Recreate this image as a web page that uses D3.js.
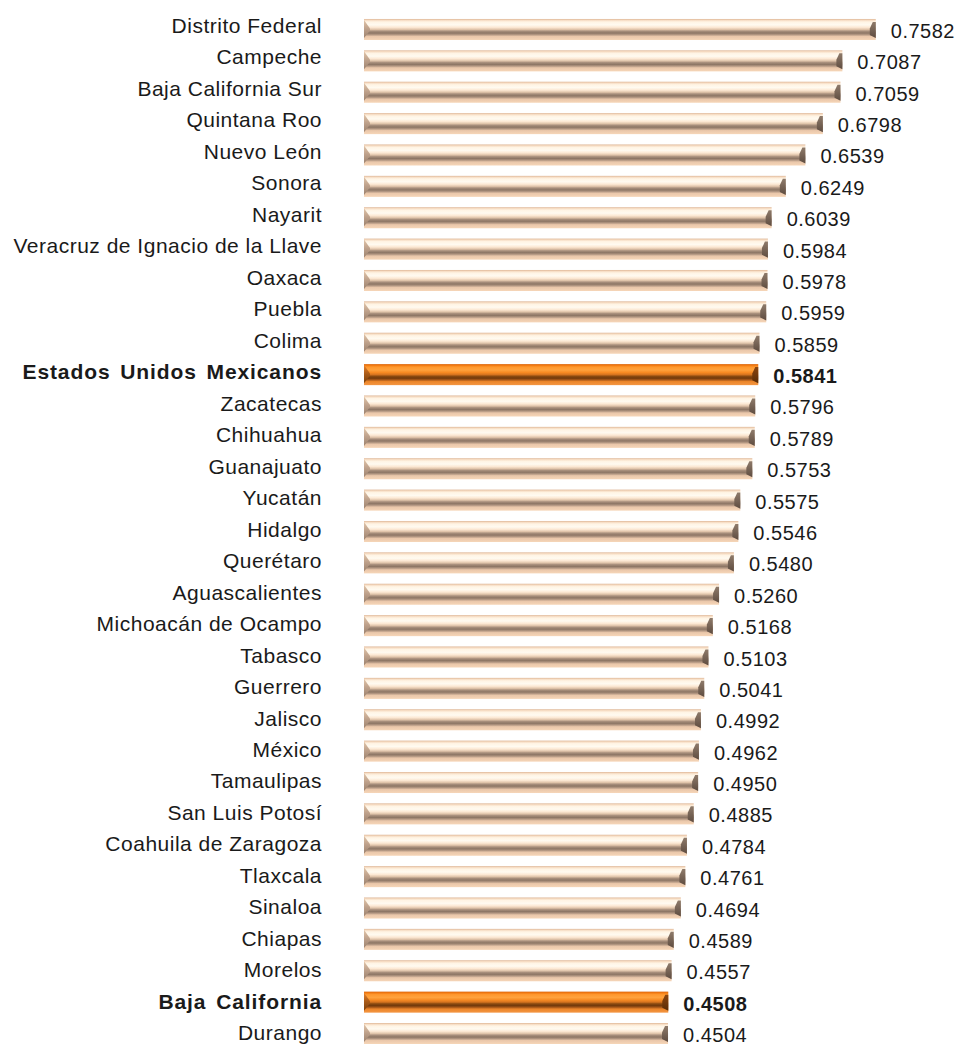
<!DOCTYPE html>
<html>
<head>
<meta charset="utf-8">
<script src="https://cdn.jsdelivr.net/npm/d3@7"></script>
<style>
  html, body { margin: 0; padding: 0; background: #ffffff; }
  svg { display: block; }
  text { font-family: "Liberation Sans", Arial, sans-serif; fill: #1a1a1a; }
</style>
</head>
<body>
<svg id="chart" width="959" height="1044"></svg>
<script>
// Entidades federativas, ordered as drawn from top to bottom
const states = [
  "Distrito Federal", "Campeche", "Baja California Sur", "Quintana Roo",
  "Nuevo León", "Sonora", "Nayarit", "Veracruz de Ignacio de la Llave",
  "Oaxaca", "Puebla", "Colima", "Estados Unidos Mexicanos", "Zacatecas",
  "Chihuahua", "Guanajuato", "Yucatán", "Hidalgo", "Querétaro",
  "Aguascalientes", "Michoacán de Ocampo", "Tabasco", "Guerrero", "Jalisco",
  "México", "Tamaulipas", "San Luis Potosí", "Coahuila de Zaragoza",
  "Tlaxcala", "Sinaloa", "Chiapas", "Morelos", "Baja California", "Durango"
];
const values = [
  0.7582, 0.7087, 0.7059, 0.6798, 0.6539, 0.6249, 0.6039, 0.5984,
  0.5978, 0.5959, 0.5859, 0.5841, 0.5796, 0.5789, 0.5753, 0.5575,
  0.5546, 0.5480, 0.5260, 0.5168, 0.5103, 0.5041, 0.4992, 0.4962,
  0.4950, 0.4885, 0.4784, 0.4761, 0.4694, 0.4589, 0.4557, 0.4508, 0.4504
];
// Rows drawn in orange with bold labels
const highlighted = ["Estados Unidos Mexicanos", "Baja California"];

const rows = states.map((name, i) => ({
  name, value: values[i], hi: highlighted.includes(name)
}));

const svg = d3.select("#chart");

const x = d3.scaleLinear().domain([0, 0.8]).range([364, 904]);
const y = d3.scaleBand()
  .domain(states)
  .range([13.8, 1049.2])
  .paddingInner(0.33)
  .paddingOuter(0.165);
const labelY = d3.scalePoint().domain(states).range([25.5, 1033]);

// Vertical gradients that give the bars their tubular look
const defs = svg.append("defs");
function tube(id, stops) {
  const g = defs.append("linearGradient")
    .attr("id", id).attr("x1", 0).attr("y1", 0).attr("x2", 0).attr("y2", 1);
  stops.forEach(([o, c]) => g.append("stop").attr("offset", o).attr("stop-color", c));
}
tube("tubeBeige", [
  [0.00, "#ddb595"], [0.06, "#f6dcc3"], [0.14, "#fff4e4"], [0.28, "#fffaf0"],
  [0.40, "#fce8d3"], [0.50, "#e0c4aa"], [0.58, "#a88f7c"], [0.67, "#8d7665"],
  [0.75, "#b49883"], [0.83, "#eac7aa"], [1.00, "#f6d6b8"]
]);
tube("tubeOrange", [
  [0.00, "#d8650c"], [0.06, "#f27a12"], [0.14, "#ff982e"], [0.28, "#ffa23c"],
  [0.40, "#f78a22"], [0.50, "#d6741f"], [0.58, "#8a4a10"], [0.67, "#71390b"],
  [0.75, "#a9591a"], [0.83, "#ec862a"], [1.00, "#f49643"]
]);
tube("capBeige", [[0, "#e2c6aa"], [0.5, "#bda08a"], [1, "#9c826e"]]);
tube("capOrange", [[0, "#e7802a"], [0.5, "#a85a18"], [1, "#7a400c"]]);
tube("endBeige", [[0, "#8e7a6a"], [1, "#5e4c40"]]);
tube("endOrange", [[0, "#8a4510"], [1, "#5a2c06"]]);

const bar = svg.append("g").selectAll("g")
  .data(rows).join("g");

bar.append("rect")
  .attr("x", x(0))
  .attr("y", d => y(d.name))
  .attr("width", d => x(d.value) - x(0))
  .attr("height", y.bandwidth())
  .attr("fill", d => d.hi ? "url(#tubeOrange)" : "url(#tubeBeige)");

// Bevelled left cap
bar.append("path")
  .attr("d", d => {
    const x0 = x(0), t = y(d.name), h = y.bandwidth(), m = t + h * 0.5;
    return `M${x0},${t + 1}L${x0 + 6},${m - 1}L${x0 + 6},${m + 1}L${x0},${t + h - 2}Z`;
  })
  .attr("fill", d => d.hi ? "url(#capOrange)" : "url(#capBeige)");

// Darker bevelled right end
bar.append("path")
  .attr("d", d => {
    const x1 = x(d.value), t = y(d.name), h = y.bandwidth();
    return `M${x1 - 3},${t + 3}L${x1},${t + 3}L${x1},${t + h - 2}L${x1 - 6},${t + h - 5}L${x1 - 6},${t + h * 0.45}Z`;
  })
  .attr("fill", d => d.hi ? "url(#endOrange)" : "url(#endBeige)");

// Category labels
svg.append("g").selectAll("text")
  .data(rows).join("text")
  .attr("x", 322)
  .attr("y", d => labelY(d.name))
  .attr("dy", "0.35em")
  .attr("text-anchor", "end")
  .attr("font-size", 21)
  .attr("font-weight", d => d.hi ? "bold" : "normal")
  .attr("letter-spacing", d => d.hi ? 0.9 : 0.5)
  .attr("word-spacing", d => d.hi ? 3 : 0)
  .text(d => d.name);

// Value labels
svg.append("g").selectAll("text")
  .data(rows).join("text")
  .attr("x", d => x(d.value) + 15)
  .attr("y", d => y(d.name) + y.bandwidth() / 2 + 1.5)
  .attr("dy", "0.35em")
  .attr("font-size", 20)
  .attr("font-weight", d => d.hi ? "bold" : "normal")
  .attr("letter-spacing", 0.5)
  .text(d => d.value.toFixed(4));
</script>
</body>
</html>
